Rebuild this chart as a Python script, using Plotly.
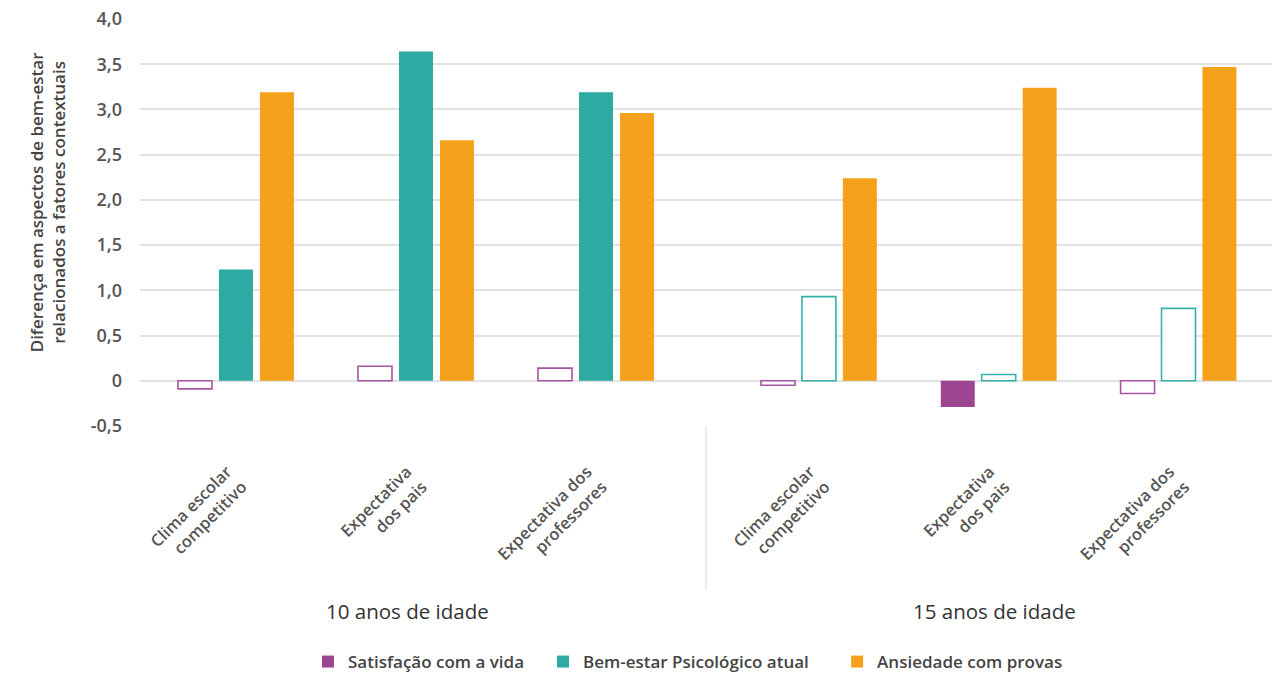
import plotly.graph_objects as go
from plotly.subplots import make_subplots

# ---------------- data ----------------
categories = ["Clima escolar<br>competitivo", "Expectativa<br>dos pais", "Expectativa dos<br>professores"]
age_groups = ["10 anos de idade", "15 anos de idade"]
series_names = ["Satisfação com a vida", "Bem-estar Psicológico atual", "Ansiedade com provas"]

satisfacao_10 = [-0.09, 0.16, 0.14]
satisfacao_15 = [-0.05, -0.29, -0.14]
bem_estar_10 = [1.23, 3.64, 3.19]
bem_estar_15 = [0.93, 0.07, 0.80]
ansiedade_10 = [3.19, 2.66, 2.96]
ansiedade_15 = [2.24, 3.24, 3.47]

# statistically significant (filled) vs not significant (hollow)
satisfacao_sig_10 = [False, False, False]
satisfacao_sig_15 = [False, True, False]
bem_estar_sig_10 = [True, True, True]
bem_estar_sig_15 = [False, False, False]
ansiedade_sig_10 = [True, True, True]
ansiedade_sig_15 = [True, True, True]

y_tick_vals = [-0.5, 0, 0.5, 1.0, 1.5, 2.0, 2.5, 3.0, 3.5, 4.0]
y_tick_text = ["-0,5", "0", "0,5", "1,0", "1,5", "2,0", "2,5", "3,0", "3,5", "4,0"]

# ---------------- style ----------------
fill_colors = ["#9C4692", "#2DAAA2", "#F5A11C"]
line_colors = ["#A655A4", "#36B0A8", "#F5A11C"]
FONT = "Open Sans"
TXT = "#555555"
legend_ids = ["legend", "legend2", "legend3"]
legend_x = [0.2406, 0.4242, 0.654]

values = {
    0: [satisfacao_10, satisfacao_15],
    1: [bem_estar_10, bem_estar_15],
    2: [ansiedade_10, ansiedade_15],
}
sig = {
    0: [satisfacao_sig_10, satisfacao_sig_15],
    1: [bem_estar_sig_10, bem_estar_sig_15],
    2: [ansiedade_sig_10, ansiedade_sig_15],
}

fig = make_subplots(rows=1, cols=2, shared_yaxes=True, horizontal_spacing=0)

legend_shown = set()
for g in range(2):
    for s in range(3):
        vals = values[s][g]
        flags = sig[s][g]
        filled_y = [v if f else None for v, f in zip(vals, flags)]
        hollow_y = [v if not f else None for v, f in zip(vals, flags)]
        show = any(flags) and s not in legend_shown
        if show:
            legend_shown.add(s)
        fig.add_trace(go.Bar(
            x=categories, y=filled_y, name=series_names[s],
            offsetgroup=str(s), legendgroup=str(s), showlegend=show, legend=legend_ids[s],
            marker=dict(color=fill_colors[s], line=dict(width=0)),
        ), row=1, col=g + 1)
        fig.add_trace(go.Bar(
            x=categories, y=hollow_y, name=series_names[s],
            offsetgroup=str(s), legendgroup=str(s), showlegend=False, legend=legend_ids[s],
            marker=dict(color="white", line=dict(color=line_colors[s], width=1.6)),
        ), row=1, col=g + 1)

legend_style = dict(orientation="h", xref="container", yref="container", y=0.0178,
                    yanchor="middle", xanchor="left", bgcolor="rgba(0,0,0,0)",
                    font=dict(size=17, color="#444444", weight=600, family=FONT), itemwidth=30)

fig.update_layout(
    width=1280, height=674,
    margin=dict(l=140, r=8, t=19, b=248, autoexpand=False),
    paper_bgcolor="white", plot_bgcolor="white",
    barmode="group", bargap=0.317, bargroupgap=0.17,
    font=dict(family=FONT, color=TXT),
    legend=dict(x=legend_x[0], **legend_style),
    legend2=dict(x=legend_x[1], **legend_style),
    legend3=dict(x=legend_x[2], **legend_style),
    showlegend=True,
)

fig.update_xaxes(domain=[0, 0.5], range=[-0.533, 2.611], row=1, col=1)
fig.update_xaxes(domain=[0.5, 1], range=[-0.628, 2.52], row=1, col=2)
fig.update_xaxes(tickangle=-45, showgrid=False, showline=False, zeroline=False, ticks="",
                 automargin=False, ticklabelstandoff=32, ticklabelshift=-9,
                 tickfont=dict(size=16.5, color=TXT, weight=600))

fig.update_yaxes(range=[-0.5, 4.0], tickvals=y_tick_vals, ticktext=y_tick_text,
                 showgrid=True, gridcolor="#E2E2E2", gridwidth=1.5, zeroline=False,
                 showline=False, ticks="", automargin=False)
fig.update_yaxes(tickfont=dict(size=18, color=TXT, weight=600), ticklabelstandoff=17, row=1, col=1)
fig.update_yaxes(showticklabels=False, row=1, col=2)

# y axis title
fig.add_annotation(text="Diferença em aspectos de bem-estar<br>relacionados a fatores contextuais",
                   xref="paper", yref="paper", x=-0.082, y=0.55, xanchor="center", yanchor="middle",
                   textangle=-90, showarrow=False,
                   font=dict(size=17, color="#444444", weight=600, family=FONT))

# age group labels
group_x = [0.2367, 0.755]
for label, gx in zip(age_groups, group_x):
    fig.add_annotation(text=label, xref="paper", yref="paper", x=gx, y=-0.4545,
                       xanchor="center", yanchor="middle", showarrow=False,
                       font=dict(size=20.5, color="#333333", family=FONT))

# divider between age groups
fig.add_shape(type="line", xref="paper", yref="paper", x0=0.5, x1=0.5, y0=0, y1=-0.403,
              line=dict(color="#DDDDDD", width=1.2))

# the page's default body margin would shift the 1280x674 figure; remove it
fig.write_html("out.html", config={"displayModeBar": False},
               post_script="document.body.style.margin='0';document.body.style.overflow='hidden';")
